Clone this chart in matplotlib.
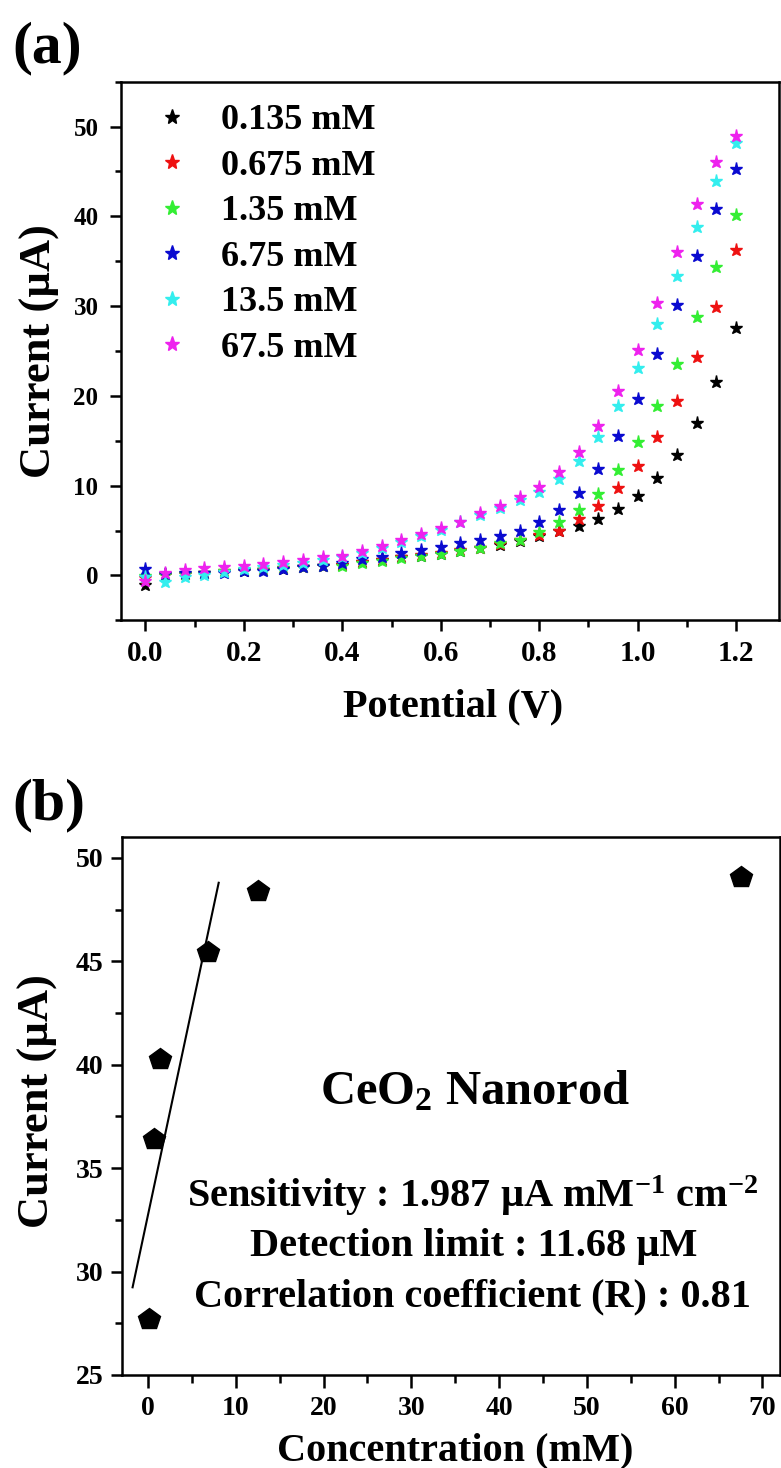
import numpy as np
import matplotlib
matplotlib.use("Agg")
import matplotlib.pyplot as plt
from matplotlib.ticker import MultipleLocator, FormatStrFormatter

plt.rcParams['font.family'] = ['Liberation Serif', 'DejaVu Serif']
plt.rcParams['font.weight'] = 'bold'
plt.rcParams['mathtext.fontset'] = 'custom'
plt.rcParams['mathtext.rm'] = 'Liberation Serif:bold'
plt.rcParams['mathtext.it'] = 'Liberation Serif:bold'
plt.rcParams['mathtext.bf'] = 'Liberation Serif:bold'

# ---------------- data: panel (a) ----------------
potential = [0.00, 0.04, 0.08, 0.12, 0.16, 0.20, 0.24, 0.28, 0.32, 0.36, 0.40,
             0.44, 0.48, 0.52, 0.56, 0.60, 0.64, 0.68, 0.72, 0.76, 0.80, 0.84,
             0.88, 0.92, 0.96, 1.00, 1.04, 1.08, 1.12, 1.16, 1.20]

labels_a = ['0.135 mM', '0.675 mM', '1.35 mM', '6.75 mM', '13.5 mM', '67.5 mM']
colors_a = ['#000000', '#ee1111', '#33ee33', '#0a0ad0', '#33eeee', '#ee22ee']

cur_0135 = [-1.1, 0.1, 0.2, 0.3, 0.4, 0.5, 0.6, 0.75, 0.9, 1.0, 1.2, 1.45, 1.7,
            2.0, 2.2, 2.4, 2.7, 3.0, 3.4, 3.8, 4.4, 4.9, 5.5, 6.3, 7.4, 8.8,
            10.8, 13.4, 17.0, 21.6, 27.6]
cur_0675 = [-0.3, 0.05, 0.2, 0.3, 0.45, 0.55, 0.65, 0.8, 0.95, 1.05, 1.2, 1.45,
            1.7, 2.0, 2.25, 2.5, 2.8, 3.1, 3.5, 3.9, 4.5, 5.0, 6.3, 7.7, 9.7,
            12.2, 15.4, 19.4, 24.3, 29.9, 36.2]
cur_135 = [-0.07, 0.0, 0.2, 0.3, 0.45, 0.55, 0.65, 0.8, 0.95, 1.05, 1.1, 1.4,
           1.6, 1.9, 2.2, 2.4, 2.7, 3.1, 3.6, 4.0, 4.8, 5.9, 7.3, 9.1, 11.7,
           14.9, 18.9, 23.6, 28.8, 34.4, 40.1]
cur_675 = [0.67, 0.2, 0.25, 0.3, 0.3, 0.45, 0.5, 0.7, 0.9, 1.1, 1.4, 1.8, 2.1,
           2.45, 2.8, 3.2, 3.6, 3.9, 4.4, 5.0, 6.0, 7.3, 9.2, 11.9, 15.5, 19.7,
           24.7, 30.1, 35.6, 40.8, 45.3]
cur_135b = [-0.2, -0.7, -0.15, 0.05, 0.4, 0.7, 0.9, 1.2, 1.4, 1.7, 2.0, 2.5,
            3.1, 3.7, 4.4, 5.1, 5.9, 6.7, 7.5, 8.4, 9.3, 10.7, 12.7, 15.4,
            18.9, 23.1, 28.0, 33.4, 38.8, 43.9, 48.2]
cur_675b = [-0.6, 0.3, 0.55, 0.8, 0.95, 1.1, 1.3, 1.5, 1.7, 2.0, 2.2, 2.7, 3.3,
            3.9, 4.6, 5.3, 6.0, 6.9, 7.7, 8.7, 9.9, 11.5, 13.8, 16.7, 20.5,
            25.1, 30.4, 36.0, 41.4, 46.0, 49.0]
series_a = [cur_0135, cur_0675, cur_135, cur_675, cur_135b, cur_675b]

# ---------------- data: panel (b) ----------------
concentration = [0.1, 0.68, 1.36, 6.8, 12.5, 67.6]
peak_current = [27.7, 36.4, 40.3, 45.45, 48.4, 49.1]
fit_slope = 1.994
fit_intercept = 32.75
fit_range = [-1.76, 8.05]

W, H = 781, 1468
fig = plt.figure(figsize=(W / 100, H / 100), dpi=100)


def fx(px):
    return px / W


def fy(py):
    return 1 - py / H


SPINE_LW = 1.8

# ---------------- panel (a) ----------------
a_l, a_r, a_t, a_b = 120.7, 779.0, 81.7, 620.3
ax1 = fig.add_axes([fx(a_l), fy(a_b), (a_r - a_l) / W, (a_b - a_t) / H])
for lab, col, vals in zip(labels_a, colors_a, series_a):
    ax1.plot(potential, vals, ls='none', marker='*', ms=9.5, color=col,
             mec=col, label=lab)
ax1.set_xlim(-0.05, 1.287)
ax1.set_ylim(-5, 55)
ax1.xaxis.set_major_locator(MultipleLocator(0.2))
ax1.xaxis.set_minor_locator(MultipleLocator(0.1))
ax1.xaxis.set_major_formatter(FormatStrFormatter('%.1f'))
ax1.yaxis.set_major_locator(MultipleLocator(10))
ax1.yaxis.set_minor_locator(MultipleLocator(5))
ax1.tick_params(axis='x', which='major', direction='out', length=8,
                width=SPINE_LW, labelsize=21, pad=6)
ax1.tick_params(axis='x', which='minor', direction='out', length=5,
                width=SPINE_LW)
ax1.tick_params(axis='y', which='major', direction='out', length=8,
                width=SPINE_LW, labelsize=18, pad=8)
ax1.tick_params(axis='y', which='minor', direction='out', length=4,
                width=SPINE_LW)
for sp in ax1.spines.values():
    sp.set_linewidth(SPINE_LW)
ax1.set_xlabel('Potential (V)', fontsize=29, fontweight='bold')
ax1.xaxis.label.set_va('baseline')
ax1.xaxis.set_label_coords((453 - a_l) / (a_r - a_l), (a_b - 716) / (a_b - a_t))
ax1.set_ylabel('Current (µA)', fontsize=32, fontweight='bold')
ax1.yaxis.label.set_va('center')
ax1.yaxis.set_label_coords((40 - a_l) / (a_r - a_l), 0.5)
ax1.legend(loc='upper left',
           bbox_to_anchor=((154 - a_l) / (a_r - a_l), 1 - (104 - a_t) / (a_b - a_t)),
           frameon=False, fontsize=26, handlelength=1.0, handletextpad=0.85,
           labelspacing=0.34, borderpad=0, borderaxespad=0, markerscale=1.15)

fig.text(fx(12), fy(48), '(a)', fontsize=43, fontweight='bold',
         ha='left', va='center')

# ---------------- panel (b) ----------------
b_l, b_r, b_t, b_b = 121.7, 780.0, 837.3, 1375.0
ax2 = fig.add_axes([fx(b_l), fy(b_b), (b_r - b_l) / W, (b_b - b_t) / H])
ax2.plot(concentration, peak_current, ls='none', marker='p', ms=16,
         color='k', mec='k')
xs = np.array(fit_range)
ax2.plot(xs, fit_intercept + fit_slope * xs, color='k', lw=1.5)
ax2.set_xlim(-3, 72)
ax2.set_ylim(25, 51)
ax2.xaxis.set_major_locator(MultipleLocator(10))
ax2.xaxis.set_minor_locator(MultipleLocator(5))
ax2.yaxis.set_major_locator(MultipleLocator(5))
ax2.yaxis.set_minor_locator(MultipleLocator(2.5))
ax2.tick_params(axis='x', which='major', direction='out', length=9,
                width=SPINE_LW, labelsize=20, pad=6)
ax2.tick_params(axis='x', which='minor', direction='out', length=5.5,
                width=SPINE_LW)
ax2.tick_params(axis='y', which='major', direction='out', length=8,
                width=SPINE_LW, labelsize=20, pad=5)
ax2.tick_params(axis='y', which='minor', direction='out', length=5,
                width=SPINE_LW)
for sp in ax2.spines.values():
    sp.set_linewidth(SPINE_LW)
ax2.set_xlabel('Concentration (mM)', fontsize=29, fontweight='bold')
ax2.xaxis.label.set_va('baseline')
ax2.xaxis.set_label_coords((455 - b_l) / (b_r - b_l), (b_b - 1460) / (b_b - b_t))
ax2.set_ylabel('Current (µA)', fontsize=32, fontweight='bold')
ax2.yaxis.label.set_va('center')
ax2.yaxis.set_label_coords((38 - b_l) / (b_r - b_l), 0.51)

fig.text(fx(12), fy(805), '(b)', fontsize=43, fontweight='bold',
         ha='left', va='center')

fig.text(fx(475), fy(1104), r'CeO$_{2}$ Nanorod', fontsize=35,
         fontweight='bold', ha='center', va='baseline')
fig.text(fx(473), fy(1207), r'Sensitivity : 1.987 µA mM$^{-1}$ cm$^{-2}$',
         fontsize=29, fontweight='bold', ha='center', va='baseline')
fig.text(fx(474), fy(1256), 'Detection limit : 11.68 µM',
         fontsize=29, fontweight='bold', ha='center', va='baseline')
fig.text(fx(472), fy(1306), 'Correlation coefficient (R) : 0.81',
         fontsize=29, fontweight='bold', ha='center', va='baseline')

fig.savefig('out.png', dpi=100)
